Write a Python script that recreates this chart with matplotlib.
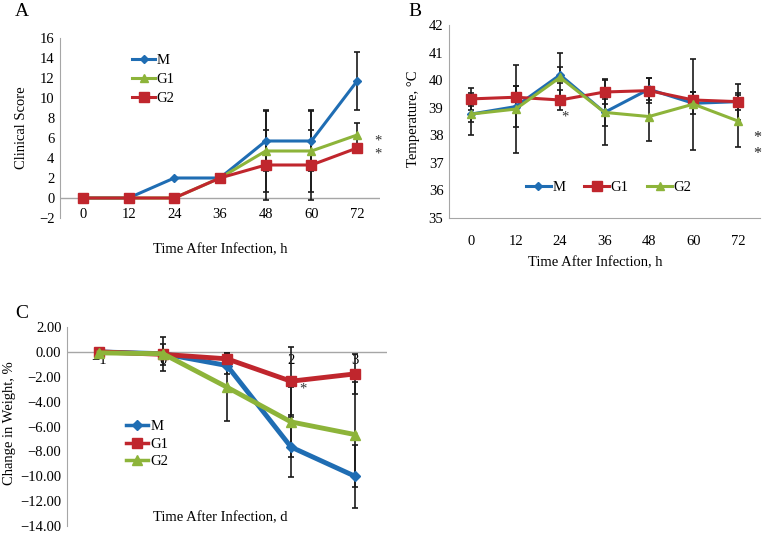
import matplotlib
matplotlib.use('Agg')
import matplotlib.pyplot as plt
from matplotlib.lines import Line2D

plt.rcParams['font.family'] = ['Liberation Serif', 'DejaVu Serif']
plt.rcParams['axes.unicode_minus'] = True

# Panel A: clinical score
a_hours = ['0', '12', '24', '36', '48', '60', '72']
a_M = [0, 0, 2, 2, 5.7, 5.7, 11.7]
a_M_err = [0, 0, 0, 0, 3.0, 3.0, 2.9]
a_G1 = [0, 0, 0, 2, 4.7, 4.7, 6.3]
a_G1_err = [0, 0, 0, 0, 4.1, 4.1, 1.2]
a_G2 = [0, 0, 0, 2, 3.3, 3.3, 5.0]
a_G2_err = [0, 0, 0, 0, 3.5, 3.5, 0]
a_yticks = [-2, 0, 2, 4, 6, 8, 10, 12, 14, 16]

# Panel B: temperature
b_hours = ['0', '12', '24', '36', '48', '60', '72']
b_M = [38.77, 39.04, 40.19, 38.83, 39.67, 39.16, 39.22]
b_M_err = [0.75, 0.75, 0.3, 0.5, 0.4, 0.4, 0.3]
b_G1 = [39.32, 39.38, 39.28, 39.57, 39.62, 39.28, 39.22]
b_G1_err = [0.4, 0.4, 0.35, 0.45, 0.45, 0.3, 0.65]
b_G2 = [38.77, 38.95, 40.1, 38.83, 38.68, 39.13, 38.52]
b_G2_err = [0.3, 1.6, 0.9, 1.2, 0.9, 1.65, 0.95]
b_yticks = [35, 36, 37, 38, 39, 40, 41, 42]

# Panel C: weight change
c_days = ['\u22121', '0', '1', '2', '3']
c_M = [0.0, -0.15, -1.1, -7.65, -10.0]
c_M_err = [0, 1.35, 0.7, 2.45, 2.55]
c_G1 = [0.0, -0.2, -0.56, -2.36, -1.77]
c_G1_err = [0, 0.85, 0.5, 2.75, 1.6]
c_G2 = [-0.08, -0.15, -2.84, -5.63, -6.65]
c_G2_err = [0, 0.3, 2.74, 2.8, 4.25]
c_yticks = [2, 0, -2, -4, -6, -8, -10, -12, -14]

BLUE = '#1f6db3'
RED = '#c0262d'
GREEN = '#8db43a'
GREY = '#a6a6a6'
FS = 10.5

W, H = 762, 534


def fx(x):
    return x / W


def fy(y):
    return 1 - y / H


fig = plt.figure(figsize=(W / 100, H / 100), dpi=100)


def draw_series(ax, y, err, color, marker, ms, lw):
    x = list(range(len(y)))
    ax.errorbar(x, y, yerr=err, fmt='none', ecolor='#1a1a1a', elinewidth=1.2,
                capsize=2.5, capthick=1.2, zorder=2)
    ax.plot(x, y, color=color, marker=marker, markersize=ms, lw=lw, zorder=3)


def style_axes(ax):
    for s in ['top', 'right', 'bottom']:
        ax.spines[s].set_visible(False)
    ax.spines['left'].set_color(GREY)
    ax.tick_params(axis='both', length=0, labelsize=FS)
    ax.tick_params(axis='y', pad=4)


# ---------- Panel A ----------
axA = fig.add_axes([fx(60), fy(218), fx(380 - 60), (218 - 38) / H])
style_axes(axA)
axA.axhline(0, color=GREY, lw=1, zorder=1)
draw_series(axA, a_M, a_M_err, BLUE, 'D', 4.5, 2.2)
draw_series(axA, a_G1, a_G1_err, GREEN, '^', 6, 2.2)
draw_series(axA, a_G2, a_G2_err, RED, 's', 6.5, 2.2)
axA.set_xlim(-0.5, len(a_hours) - 0.5)
axA.set_ylim(-2, 16)
axA.set_yticks(a_yticks)
axA.set_yticklabels([f'{v:d}'.replace('-', '\u2212') for v in a_yticks])
axA.set_xticks([])
for i, lab in enumerate(a_hours):
    axA.text(i, -1.7, lab, ha='center', va='center', fontsize=FS)
# significance marks next to the 72 h points (G1 and G2)
axA.text(len(a_hours) - 0.62, (a_G1[-1] + a_G2[-1]) / 2 - 0.6, '*\n*', fontsize=FS,
         va='center', ha='left', linespacing=1.05, color='#333333')
hA = [Line2D([], [], color=BLUE, marker='D', markersize=4.5, lw=2.2),
      Line2D([], [], color=GREEN, marker='^', markersize=6, lw=2.2),
      Line2D([], [], color=RED, marker='s', markersize=6.5, lw=2.2)]
fig.legend(hA, ['M', 'G1', 'G2'], loc='upper left', bbox_to_anchor=(fx(132), fy(54)),
           frameon=False, fontsize=FS, handlelength=1.6, handletextpad=0.1,
           labelspacing=0.4, borderpad=0, borderaxespad=0)
fig.text(fx(15), fy(12), 'A', fontsize=14, va='center')
fig.text(fx(22), fy(128), 'Clinical Score', rotation=90, fontsize=FS, ha='center', va='center')
fig.text(fx(220), fy(250), 'Time After Infection, h', fontsize=FS, ha='center', va='center')

# ---------- Panel B ----------
axB = fig.add_axes([fx(449), fy(218), fx(760 - 449), (218 - 25) / H])
style_axes(axB)
axB.spines['bottom'].set_visible(True)
axB.spines['bottom'].set_color(GREY)
draw_series(axB, b_M, b_M_err, BLUE, 'D', 4.5, 2.2)
draw_series(axB, b_G1, b_G1_err, RED, 's', 6.5, 2.2)
draw_series(axB, b_G2, b_G2_err, GREEN, '^', 6, 2.2)
axB.set_xlim(-0.5, len(b_hours) - 0.5)
axB.set_ylim(35, 42)
axB.set_yticks(b_yticks)
axB.set_xticks(range(len(b_hours)))
axB.set_xticklabels(b_hours)
axB.tick_params(axis='x', pad=12)
axB.text(2.1, 38.65, '*', fontsize=FS, ha='center', va='center', color='#333333')
fig.text(fx(757), fy(146), '*\n*', fontsize=FS + 1, ha='center', va='center',
         linespacing=0.95, color='#222222')
hB = [Line2D([], [], color=BLUE, marker='D', markersize=4.5, lw=2.2),
      Line2D([], [], color=RED, marker='s', markersize=6.5, lw=2.2),
      Line2D([], [], color=GREEN, marker='^', markersize=6, lw=2.2)]
fig.legend(hB, ['M', 'G1', 'G2'], loc='upper left', bbox_to_anchor=(fx(526), fy(181)),
           frameon=False, fontsize=FS, ncol=3, handlelength=1.7, handletextpad=0.1,
           columnspacing=1.3, borderpad=0, borderaxespad=0)
fig.text(fx(408), fy(12), 'B', fontsize=14, va='center')
fig.text(fx(413), fy(119), 'Temperature, \u00b0C', rotation=90, fontsize=FS, ha='center', va='center')
fig.text(fx(595), fy(263), 'Time After Infection, h', fontsize=FS, ha='center', va='center')

# ---------- Panel C ----------
axC = fig.add_axes([fx(67), fy(526), fx(387 - 67), (526 - 327) / H])
style_axes(axC)
axC.axhline(0, color=GREY, lw=1, zorder=1)
for i, lab in enumerate(c_days):
    axC.text(i, -0.7, lab, ha='center', va='center', fontsize=FS, zorder=0)
draw_series(axC, c_M, c_M_err, BLUE, 'D', 5, 3.5)
draw_series(axC, c_G1, c_G1_err, RED, 's', 7.5, 3.5)
draw_series(axC, c_G2, c_G2_err, GREEN, '^', 7.5, 3.5)
axC.set_xlim(-0.5, len(c_days) - 0.5)
axC.set_ylim(-14, 2)
axC.set_yticks(c_yticks)
axC.set_yticklabels([f'{v:.2f}'.replace('-', '\u2212') for v in c_yticks])
axC.set_xticks([])
axC.text(3.18, -3.0, '*', fontsize=FS, ha='center', va='center', color='#333333')
hC = [Line2D([], [], color=BLUE, marker='D', markersize=5, lw=2.5),
      Line2D([], [], color=RED, marker='s', markersize=7, lw=2.5),
      Line2D([], [], color=GREEN, marker='^', markersize=7, lw=2.5)]
fig.legend(hC, ['M', 'G1', 'G2'], loc='upper left', bbox_to_anchor=(fx(126), fy(420)),
           frameon=False, fontsize=FS, handlelength=1.5, handletextpad=0.2,
           labelspacing=0.3, borderpad=0, borderaxespad=0)
fig.text(fx(15), fy(313), 'C', fontsize=14, va='center')
fig.text(fx(10), fy(423), 'Change in Weight, %', rotation=90, fontsize=FS, ha='center', va='center')
fig.text(fx(220), fy(518), 'Time After Infection, d', fontsize=FS, ha='center', va='center')

fig.savefig('out.png', dpi=100)
